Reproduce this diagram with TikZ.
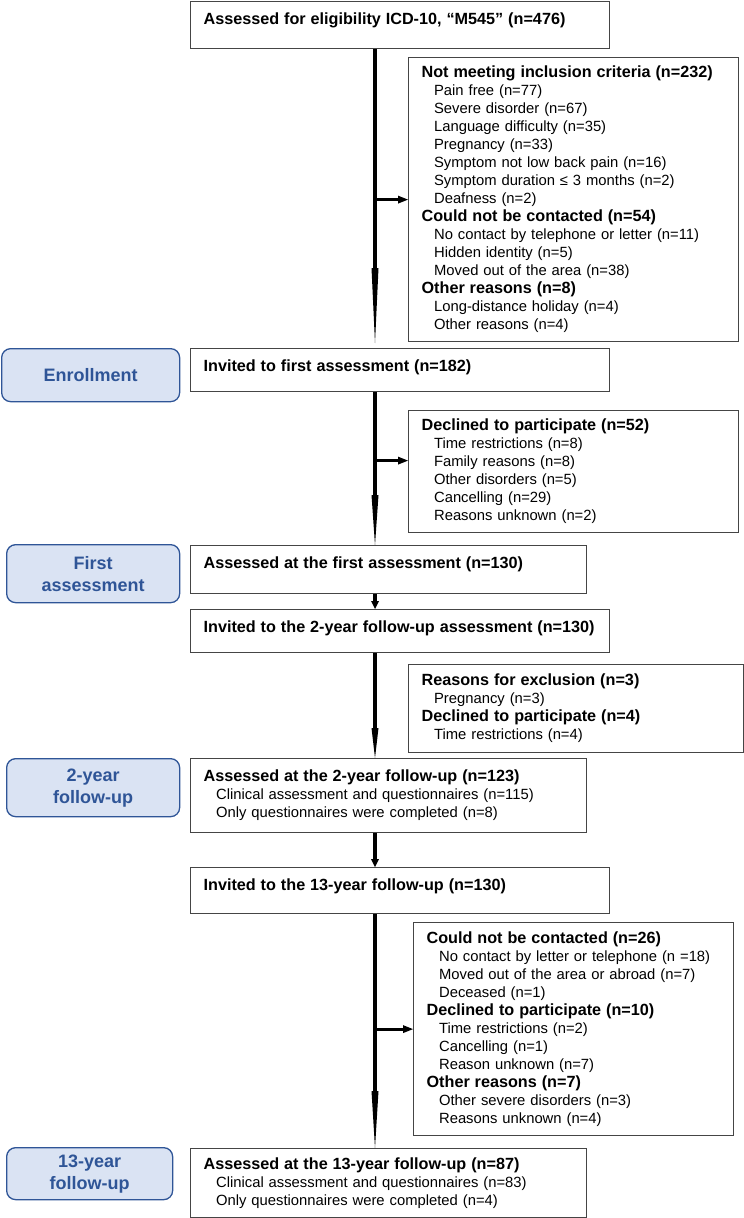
\documentclass[tikz,border=0pt]{standalone}
\usepackage{fontspec}
\setmainfont{Liberation Sans}
\usetikzlibrary{arrows.meta,positioning}

\definecolor{stageblue}{HTML}{2F5597}
\definecolor{stagefill}{HTML}{DAE3F3}
\definecolor{boxline}{HTML}{454545}

\newcommand{\hd}[1]{{\fontsize{16.2}{18}\selectfont\bfseries\mbox{#1}}}
\newcommand{\itm}[1]{\hspace*{12.5pt}#1}

\tikzset{
  box/.style={draw=boxline, line width=1.2pt, anchor=north west, inner xsep=13pt, inner ysep=5pt,
    font=\fontsize{14.8}{18}\selectfont, align=left},
  single/.style={text height=18pt, text depth=#1},
  stage/.style={draw=stageblue, fill=stagefill, line width=1.3pt, rounded corners=9pt, anchor=north west,
    align=center, text=stageblue, font=\fontsize{18}{22}\selectfont\bfseries},
  trunk/.style={line width=4pt, -{Triangle[length=#1,width=7pt,line width=0pt]}},
  sidearrow/.style={line width=3pt, -{Triangle[length=10pt,width=8pt,line width=0pt]}},
  shortarrow/.style={line width=3.5pt, -{Triangle[length=8pt,width=8pt,line width=0pt]}}
}

\begin{document}
\begin{tikzpicture}[x=1pt,y=-1pt]
    \useasboundingbox (0,0) rectangle (744,1218);

    % Main column
    \node[box, single=19pt, text width=393pt] (elig) at (190,1)
        {\hd{Assessed for eligibility ICD-10, “M545” (n=476)}};
    \node[box, single=15pt, text width=393pt] (invfirst) at (190,348)
        {\hd{Invited to first assessment (n=182)}};
    \node[box, single=20pt, text width=370pt] (assfirst) at (190,545)
        {\hd{Assessed at the first assessment (n=130)}};
    \node[box, single=15pt, text width=393pt] (invtwo) at (190,609)
        {\hd{Invited to the 2-year follow-up assessment (n=130)}};
    \node[box, text width=370pt, minimum height=74pt] (asstwo) at (190,758)
        {\hd{Assessed at the 2-year follow-up (n=123)}\\
         \itm{Clinical assessment and questionnaires (n=115)}\\
         \itm{Only questionnaires were completed (n=8)}};
    \node[box, single=18pt, text width=393pt] (invthirteen) at (190,867)
        {\hd{Invited to the 13-year follow-up (n=130)}};
    \node[box, text width=370pt, minimum height=69pt] (assthirteen) at (190,1148)
        {\hd{Assessed at the 13-year follow-up (n=87)}\\
         \itm{Clinical assessment and questionnaires (n=83)}\\
         \itm{Only questionnaires were completed (n=4)}};

    % Exclusion boxes
    \node[box, text width=304pt, minimum height=284pt] (notmeet) at (408,57)
        {\hd{Not meeting inclusion criteria (n=232)}\\
         \itm{Pain free (n=77)}\\
         \itm{Severe disorder (n=67)}\\
         \itm{Language difficulty (n=35)}\\
         \itm{Pregnancy (n=33)}\\
         \itm{Symptom not low back pain (n=16)}\\
         \itm{Symptom duration ≤ 3 months (n=2)}\\
         \itm{Deafness (n=2)}\\
         \hd{Could not be contacted (n=54)}\\
         \itm{No contact by telephone or letter (n=11)}\\
         \itm{Hidden identity (n=5)}\\
         \itm{Moved out of the area (n=38)}\\
         \hd{Other reasons (n=8)}\\
         \itm{Long-distance holiday (n=4)}\\
         \itm{Other reasons (n=4)}};
    \node[box, text width=304pt, minimum height=122pt] (declfirst) at (408,410)
        {\hd{Declined to participate (n=52)}\\
         \itm{Time restrictions (n=8)}\\
         \itm{Family reasons (n=8)}\\
         \itm{Other disorders (n=5)}\\
         \itm{Cancelling (n=29)}\\
         \itm{Reasons unknown (n=2)}};
    \node[box, text width=309pt, minimum height=88pt] (excltwo) at (408,664)
        {\hd{Reasons for exclusion (n=3)}\\
         \itm{Pregnancy (n=3)}\\
         \hd{Declined to participate (n=4)}\\
         \itm{Time restrictions (n=4)}};
    \node[box, text width=294pt, minimum height=213pt] (exclthirteen) at (413,922)
        {\hd{Could not be contacted (n=26)}\\
         \itm{No contact by letter or telephone (n =18)}\\
         \itm{Moved out of the area or abroad (n=7)}\\
         \itm{Deceased (n=1)}\\
         \hd{Declined to participate (n=10)}\\
         \itm{Time restrictions (n=2)}\\
         \itm{Cancelling (n=1)}\\
         \itm{Reason unknown (n=7)}\\
         \hd{Other reasons (n=7)}\\
         \itm{Other severe disorders (n=3)}\\
         \itm{Reasons unknown (n=4)}};

    % Stage labels
    \node[stage, minimum width=178pt, minimum height=53pt] (enrol) at (1,348) {Enrollment};
    \node[stage, minimum width=173pt, minimum height=58pt] (stfirst) at (6,544) {First\\assessment};
    \node[stage, minimum width=173pt, minimum height=58pt] (sttwo) at (6,758) {2-year\\follow-up};
    \node[stage, minimum width=166pt, minimum height=52pt] (stthirteen) at (6,1147) {13-year\\follow-up};

    % Flow arrows
    \coordinate (spine) at (375,0);
    \coordinate (sidefirst) at ([yshift=11pt]declfirst.west);
    \draw[trunk=75pt, shorten >=5pt] (elig.south -| spine) -- (invfirst.north -| spine);
    \draw[trunk=50pt] (invfirst.south -| spine) -- (assfirst.north -| spine);
    \draw[shortarrow] (assfirst.south -| spine) -- (invtwo.north -| spine);
    \draw[trunk=30pt] (invtwo.south -| spine) -- (asstwo.north -| spine);
    \draw[shortarrow] (asstwo.south -| spine) -- (invthirteen.north -| spine);
    \draw[trunk=57pt] (invthirteen.south -| spine) -- (assthirteen.north -| spine);

    % Side arrows
    \draw[sidearrow] (notmeet.west -| spine) -- (notmeet.west);
    \draw[sidearrow] (sidefirst -| spine) -- (sidefirst);
    \draw[sidearrow] (exclthirteen.west -| spine) -- (exclthirteen.west);
\end{tikzpicture}
\end{document}
